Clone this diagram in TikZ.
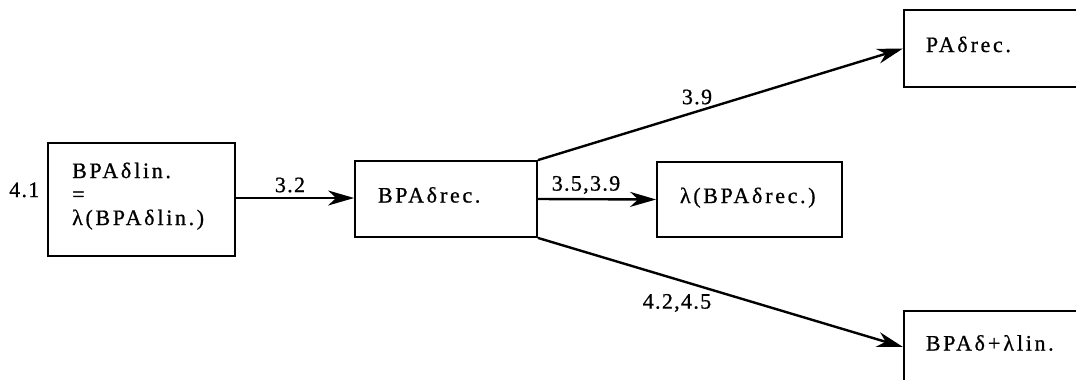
\documentclass[tikz,border=0pt]{standalone}
\usepackage{fontspec}
\setmainfont{Liberation Serif}[FakeBold=0.8]
\usetikzlibrary{arrows.meta}
\tikzset{
  boxfont/.style={font=\fontsize{22}{23.5}\selectfont\addfontfeatures{LetterSpace=12}},
  box/.style={draw, line width=1.8pt, rectangle, inner sep=0pt, align=left,
    text height=15pt, text depth=8pt, boxfont},
  conn/.style={line width=2.4pt, -{Stealth[length=26pt,width=15pt,inset=8pt]}},
  lbl/.style={font=\fontsize{22}{23.5}\selectfont\addfontfeatures{LetterSpace=6}, inner sep=0pt}
}
\newcommand{\dl}{\kern3pt}
\begin{document}
\begin{tikzpicture}[x=1pt,y=-1pt]
\useasboundingbox (0,0) rectangle (1076,380);
\clip (0,0) rectangle (1076,380);
% left box
\node[draw, line width=1.8pt, minimum width=187pt, minimum height=113pt, inner sep=0pt] (lin) at (141.5,199.5) {};
\node[boxfont, inner sep=0pt, anchor=base west, align=left, text width=160pt] (lintext) at (72,178)
  {BPAδ\dl lin.\\=\\λ(BPAδ\dl lin.)};
\node[lbl, anchor=base west] (l41) at (9,197) {4.1};
% rec box
\node[box, minimum width=182pt, minimum height=76pt, text width=136pt] (rec) at (446,199) {BPAδ\dl rec.};
% lambda rec box
\node[box, minimum width=185pt, minimum height=75pt, text width=139pt] (lrec) at (749.5,199.5) {λ(BPAδ\dl rec.)};
% PA rec box
\node[box, minimum width=180pt, minimum height=77pt, text width=136pt, anchor=west] (pa) at (903,48.5) {PAδ\dl rec.};
% BPA + lambda lin box
\node[box, minimum width=180pt, minimum height=72pt, text width=136pt, anchor=west] (bl) at (903,347) {BPAδ\dl+\dl λ\dl lin.};
% connectors
\draw[conn] (lin.east |- 0,198) -- (rec.west |- 0,198);
\draw[conn] (rec.east) -- (lrec.west);
\draw[conn] (rec.north east) -- (pa.west);
\draw[conn] (rec.south east) -- (bl.west);
% labels
\node[lbl] (a32) at (290,185) {3.2};
\node[lbl] (a3539) at (586,185) {3.5,3.9};
\node[lbl] (a39) at (697,97) {3.9};
\node[lbl] (a4245) at (677,303) {4.2,4.5};
\end{tikzpicture}
\end{document}
